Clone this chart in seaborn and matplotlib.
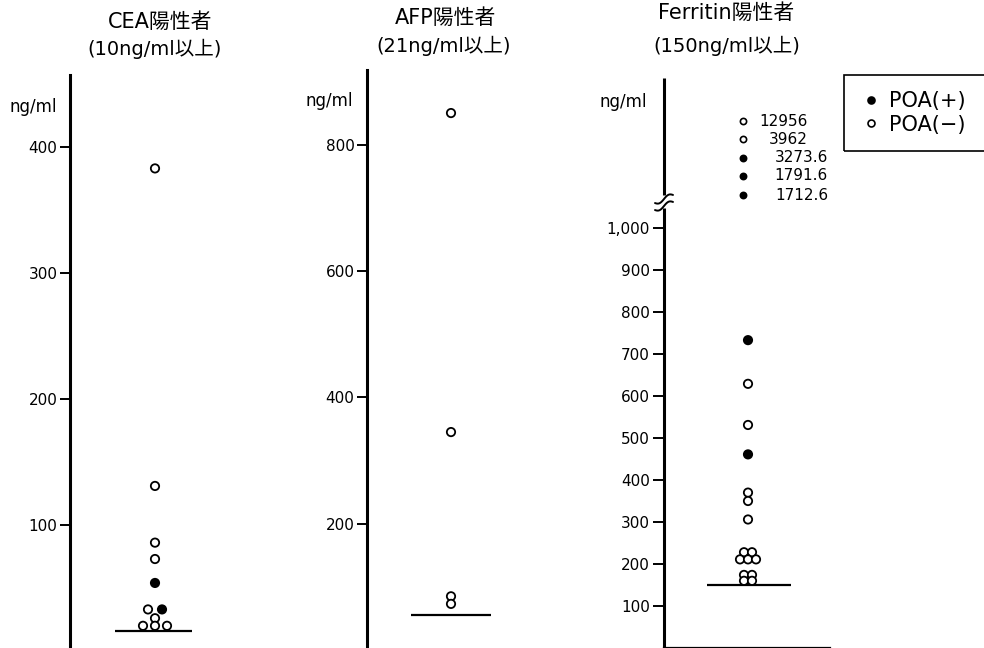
import numpy as np
import pandas as pd
import matplotlib
matplotlib.use("Agg")
import matplotlib.pyplot as plt
import seaborn as sns
from matplotlib.lines import Line2D
from matplotlib.patches import Rectangle

# ---------------- data ----------------
cea_values = [383, 131, 86, 73, 54, 33, 33, 26, 20, 20, 20]
cea_poa = ['-', '-', '-', '-', '+', '-', '+', '-', '-', '-', '-']
cea_threshold = 16
cea_ticks = [100, 200, 300, 400]

afp_values = [850, 345, 85, 73]
afp_poa = ['-', '-', '-', '-']
afp_threshold = 55
afp_ticks = [200, 400, 600, 800]

fer_values = [733, 629, 531, 461, 370, 350, 306, 228, 228, 211, 211, 211, 174, 174, 160, 160]
fer_poa = ['+', '-', '-', '+', '-', '-', '-', '-', '-', '-', '-', '-', '-', '-', '-', '-']
fer_threshold = 150
fer_ticks = [100, 200, 300, 400, 500, 600, 700, 800, 900, 1000]
fer_tick_labels = ['100', '200', '300', '400', '500', '600', '700', '800', '900', '1,000']

fer_high_values = [12956, 3962, 3273.6, 1791.6, 1712.6]
fer_high_poa = ['-', '-', '+', '+', '+']
fer_high_labels = ['12956', '3962', '3273.6', '1791.6', '1712.6']

titles = ['CEA陽性者', 'AFP陽性者', 'Ferritin陽性者']
subtitles = ['(10ng/ml以上)', '(21ng/ml以上)', '(150ng/ml以上)']
unit_label = 'ng/ml'
legend_labels = ['POA(+)', 'POA(−)']

# ---------------- layout (pixel offsets for overlapping dots) ----------------
cea_dx = [0, 0, 0, 0, 0, -7, 7, 0, -12, 0, 12]
afp_dx = [0, 0, 0, 0]
fer_dx = [0, 0, 0, 0, 0, 0, 0, -4, 4, -8, 0, 8, -4, 4, -4, 4]

sns.set_theme(style="white")
plt.rcParams['font.family'] = ['DejaVu Sans', 'Noto Sans CJK JP']
plt.rcParams['text.color'] = 'black'

W, H = 984, 648
fig = plt.figure(figsize=(W / 100, H / 100), dpi=100)
fig.patch.set_facecolor('white')


def px_axes(left, right, top, bottom):
    return fig.add_axes([left / W, 1 - bottom / H, (right - left) / W, (bottom - top) / H])


def setup(ax, left, right, top, bottom, zero_px, px_per_unit, ticks, ticklabels=None,
          ticklen=7):
    ax.set_xlim(0, 1)
    ax.set_ylim((zero_px - bottom) / px_per_unit, (zero_px - top) / px_per_unit)
    ax.set_facecolor('none')
    for s in ['top', 'right', 'bottom']:
        ax.spines[s].set_visible(False)
    ax.spines['left'].set_linewidth(2.2)
    ax.spines['left'].set_color('black')
    ax.set_xticks([])
    ax.set_yticks(ticks)
    if ticklabels is not None:
        ax.set_yticklabels(ticklabels)
    ax.tick_params(axis='y', direction='out', length=ticklen, width=1.4, pad=2,
                   labelsize=11, colors='black', left=True)
    ax.set_xlabel('')
    ax.set_ylabel('')


palette = {'+': 'black', '-': 'white'}


def dots(ax, values, poa, dx, center_px, left, width, s=36):
    df = pd.DataFrame({
        'x': [(center_px - left + d) / width for d in dx],
        'v': values,
        'poa': poa,
    })
    sns.scatterplot(data=df, x='x', y='v', hue='poa', palette=palette,
                    hue_order=['+', '-'], edgecolor='black', linewidth=1.3, s=s,
                    ax=ax, legend=False, zorder=3, clip_on=False)
    ax.set_xlabel('')
    ax.set_ylabel('')


# ---- Panel 1: CEA ----
L1, R1, T1, B1 = 70, 260, 75, 648
ax1 = px_axes(L1, R1, T1, B1)
setup(ax1, L1, R1, T1, B1, 651, 1.26, cea_ticks)
dots(ax1, cea_values, cea_poa, cea_dx, 155, L1, R1 - L1)
ax1.hlines(cea_threshold, (115 - L1) / (R1 - L1), (192 - L1) / (R1 - L1), color='black', lw=1.6)

# ---- Panel 2: AFP ----
L2, R2, T2, B2 = 367, 557, 70, 648
ax2 = px_axes(L2, R2, T2, B2)
setup(ax2, L2, R2, T2, B2, 650, 0.6317, afp_ticks)
dots(ax2, afp_values, afp_poa, afp_dx, 451, L2, R2 - L2)
ax2.hlines(afp_threshold, (411 - L2) / (R2 - L2), (491 - L2) / (R2 - L2), color='black', lw=1.6)

# ---- Panel 3: Ferritin ----
L3, R3, T3, B3 = 664, 830, 78, 648
ax3 = px_axes(L3, R3, T3, B3)
setup(ax3, L3, R3, T3, B3, 648, 0.42, fer_ticks, fer_tick_labels, ticklen=8)
ax3.spines['left'].set_visible(False)
ax3.spines['bottom'].set_visible(True)
ax3.spines['bottom'].set_linewidth(1.6)
ax3.spines['bottom'].set_color('black')
dots(ax3, fer_values, fer_poa, fer_dx, 748, L3, R3 - L3)
ax3.hlines(fer_threshold, (707 - L3) / (R3 - L3), (791 - L3) / (R3 - L3), color='black', lw=1.6)

# broken axis line
ylo, yhi = ax3.get_ylim()
brk_lo = (648 - 208) / 0.42
brk_hi = (648 - 195) / 0.42
ax3.plot([0, 0], [ylo, brk_lo], color='black', lw=2.2, transform=ax3.get_yaxis_transform(),
         clip_on=False, solid_capstyle='butt')
ax3.plot([0, 0], [brk_hi, yhi], color='black', lw=2.2, transform=ax3.get_yaxis_transform(),
         clip_on=False, solid_capstyle='butt')
xs = np.linspace(655, 673, 40)
for yc in (199, 206):
    ys = yc - 0.45 * (xs - 664) - 2.2 * np.sin(np.pi * (xs - 664) / 9)
    fig.add_artist(Line2D(xs / W, 1 - ys / H, color='black', lw=1.4, transform=fig.transFigure))

# off-scale high values listed above the break
row_y_px = [121, 139, 158, 176, 195]
for val, p, lab, yp in zip(fer_high_values, fer_high_poa, fer_high_labels, row_y_px):
    ax3.scatter([(743 - L3) / (R3 - L3)], [1 - (yp - T3) / (B3 - T3)], s=20,
                facecolor=palette[p], edgecolor='black', linewidth=1.2,
                transform=ax3.transAxes, clip_on=False, zorder=3)
    xr = 828 if '.' in lab else 808
    ax3.text((xr - L3) / (R3 - L3), 1 - (yp - T3) / (B3 - T3), lab, ha='right', va='center',
             fontsize=11, transform=ax3.transAxes, color='black')

# unit labels
for xc, yc in [(33, 107), (329, 101), (623, 102)]:
    fig.text(xc / W, 1 - yc / H, unit_label, ha='center', va='center', fontsize=12)

# titles
for (tx, ty), (sx, sy), t, st in zip([(160, 22), (446, 18), (726, 13)],
                                    [(155, 49), (444, 46), (727, 46)],
                                    titles, subtitles):
    fig.text(tx / W, 1 - ty / H, t, ha='center', va='center', fontsize=15)
    fig.text(sx / W, 1 - sy / H, st, ha='center', va='center', fontsize=14)

# legend
handles = [Line2D([], [], ls='', marker='o', ms=5, mfc='black', mec='black', mew=1.2),
           Line2D([], [], ls='', marker='o', ms=5, mfc='white', mec='black', mew=1.2)]
leg = fig.legend(handles, legend_labels, loc='upper left',
                 bbox_to_anchor=(854 / W, 1 - 81 / H), frameon=False, fontsize=15,
                 handlelength=0.6, handletextpad=0.6, labelspacing=0.15, borderpad=0)
fig.add_artist(Rectangle((844 / W, 1 - 151 / H), (995 - 844) / W, 76 / H,
                         transform=fig.transFigure, fill=False, ec='black', lw=1.2,
                         clip_on=False))

fig.savefig('out.png', dpi=100)
